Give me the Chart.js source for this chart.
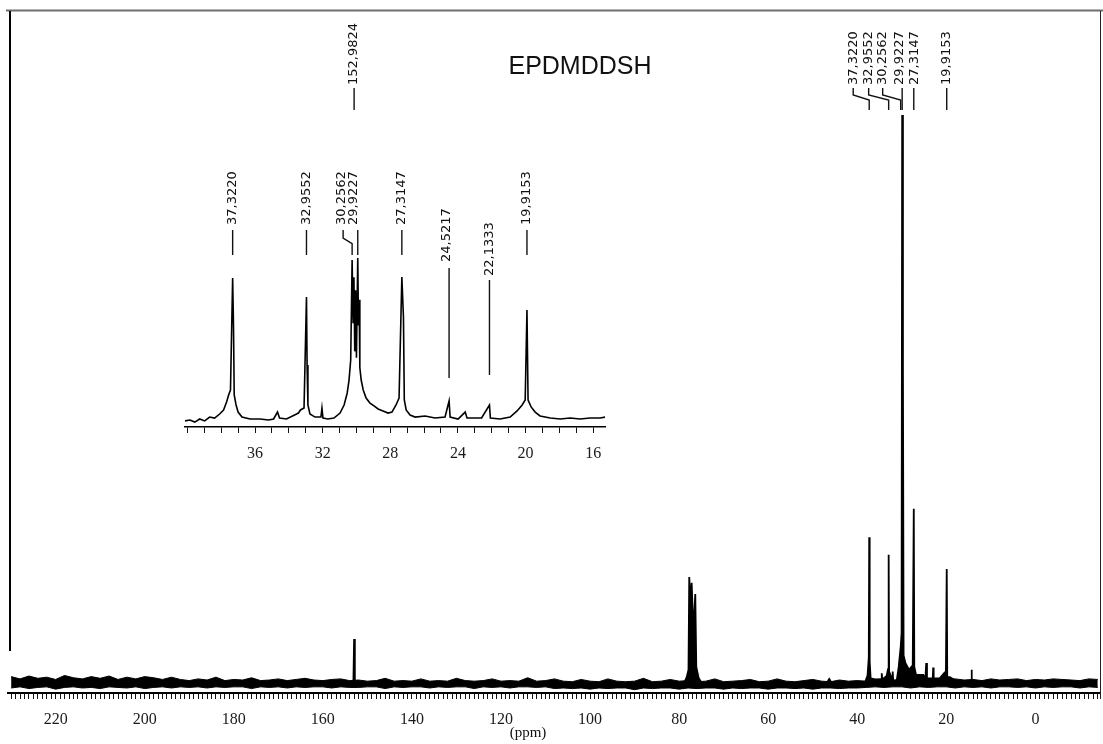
<!DOCTYPE html>
<html>
<head>
<meta charset="utf-8">
<title>EPDMDDSH 13C NMR</title>
<script src="https://cdn.jsdelivr.net/npm/chart.js@4.4.1/dist/chart.umd.min.js"></script>
<style>
  html, body { margin: 0; padding: 0; background: #fff; }
  #wrap { position: relative; width: 1103px; height: 744px; overflow: hidden; background: #fff; }
  #wrap canvas { position: absolute; left: 0; top: 0; }
</style>
</head>
<body>
<div id="wrap">
  <canvas id="full" width="1103" height="744"></canvas>
  <canvas id="zoom" width="1103" height="744"></canvas>
</div>
<script>
// ---------- Full spectrum (13C, ppm) ----------
const title = 'EPDMDDSH';
const mainTickLabels = [220, 200, 180, 160, 140, 120, 100, 80, 60, 40, 20, 0];

// Resolved signals of the full spectrum, intensity relative to 29.9227 = 100
const mainPpm = [
  153.15, 152.9824, 152.82,
  79.0, 78.3, 77.9, 77.73, 77.46, 77.19, 76.8, 76.38, 76.15, 75.6, 74.8,
  47.0, 46.3, 45.6,
  38.4, 37.7, 37.42, 37.3220, 37.22, 37.0, 36.0,
  34.6, 34.5, 34.4, 33.4, 33.1, 32.9552, 32.85, 32.2, 32.05, 31.9, 31.2,
  30.7, 30.2562, 30.05, 29.9227, 29.75, 29.6, 29.2, 28.4, 27.55, 27.3147, 27.2, 26.8,
  25.2, 24.7, 24.5217, 24.35, 23.5, 23.05, 22.96, 22.85, 21.5,
  20.5, 20.1, 19.9153, 19.8, 19.2, 17.5, 15.5, 14.45, 14.35, 14.25, 13.0
];
const mainInt = [
  0, 7.9, 0,
  0, 1.2, 2.5, 18.8, 14, 17.8, 9, 15.8, 3, 1, 0,
  0, 0.9, 0,
  0, 1.5, 4.6, 25.8, 4, 1, 0.8,
  0.8, 1.9, 0.8, 1.4, 2.6, 22.7, 2.2, 0.9, 2.2, 0.2, 0.3,
  3, 6.5, 9, 100, 56, 5, 3.7, 2.5, 3.3, 30.8, 3, 1.6,
  1.6, 1.0, 3.7, 1.0, 1.0, 1.0, 2.9, 1.0, 1.0,
  1.9, 2.2, 20.2, 1.2, 1.2, 0.4, 0.4, 0.4, 2.5, 0.4, 0
];

// Baseline noise envelope, one reading every 2 ppm from 230 ppm downwards
const noiseStart = 230, noiseStep = 2;
const noiseTop = [
  1.3, 0.9, 1.4, 1.0, 1.2, 0.8, 1.5, 1.1, 0.9, 1.3, 1.0, 1.4, 0.8, 1.2, 0.9, 1.3, 1.1, 0.8, 1.2,
  0.8, 0.6, 0.9, 0.7, 1.2, 0.6, 0.8, 0.7, 1.1, 0.6, 0.7, 0.9, 0.6, 0.8, 1.0, 0.7, 0.6, 0.8, 0.9, 0.6,
  0.7, 0.5, 0.6, 1.0, 0.5, 0.6, 0.5, 0.9, 0.5, 0.6, 0.5, 1.0, 0.6, 0.5, 0.6, 0.9, 0.5, 0.6, 0.5, 1.1, 0.5, 0.6, 0.9,
  0.5, 0.4, 0.8, 0.5, 0.4, 0.9, 0.5, 0.4, 0.5, 1.0, 0.4, 0.5, 0.8, 0.5, 0.6, 0.4, 0.5, 0.9, 0.4, 0.5, 0.6, 0.8, 0.4, 0.5, 0.9, 0.5, 0.4, 0.6, 0.8, 0.5, 0.4, 0.7, 0.5, 0.6, 0.5,
  0.8, 0.9, 0.7, 0.8, 0.7, 0.9, 0.8, 0.6, 0.8, 0.9, 0.7, 0.8, 0.6, 0.9, 0.7, 0.8, 0.9, 0.6, 0.8, 0.7, 0.9, 0.8, 0.7, 0.6, 0.9, 0.8
];
const noiseBottom = [
  -0.7, -0.5, -0.8, -0.6, -0.5, -0.9, -0.6, -0.5, -0.7, -0.6, -0.8, -0.5, -0.6, -0.7, -0.5, -0.8, -0.6, -0.5, -0.7,
  -0.5, -0.6, -0.5, -0.7, -0.5, -0.6, -0.5, -0.5, -0.8, -0.5, -0.6, -0.5, -0.7, -0.5, -0.6, -0.5, -0.5, -0.7, -0.5, -0.6,
  -0.6, -0.5, -0.5, -0.8, -0.5, -0.6, -0.5, -0.5, -0.7, -0.5, -0.6, -0.5, -0.5, -0.8, -0.5, -0.6, -0.5, -0.7, -0.5, -0.5, -0.6, -0.5, -0.8,
  -0.7, -0.8, -0.7, -0.9, -0.7, -0.8, -0.7, -0.7, -1.0, -0.7, -0.8, -0.7, -0.7, -0.9, -0.7, -0.8, -0.7, -0.7, -0.9, -0.7, -0.8, -0.7, -0.7, -0.9, -0.7, -0.7, -0.8, -0.7, -0.9, -0.7, -0.7, -0.8, -0.7, -0.7, -0.6,
  -0.5, -0.6, -0.5, -0.5, -0.7, -0.5, -0.6, -0.5, -0.5, -0.7, -0.5, -0.6, -0.5, -0.7, -0.5, -0.5, -0.6, -0.5, -0.7, -0.5, -0.6, -0.5, -0.5, -0.7, -0.5, -0.6
];

// Peak picks written above the full spectrum
const mainMarks = [152.9824, 37.3220, 32.9552, 30.2562, 29.9227, 27.3147, 19.9153];

// ---------- Expansion 40 - 15 ppm ----------
const insetTickLabels = [36, 32, 28, 24, 20, 16];
const insetPpm = [
  40.14, 39.85, 39.56, 39.27, 38.98, 38.68, 38.39, 38.09, 37.86, 37.68, 37.56, 37.45,
  37.3220, 37.27, 37.23, 37.12, 37.0, 36.77, 36.29, 35.7, 35.2, 34.9, 34.67, 34.55,
  34.14, 33.78, 33.43, 33.31, 33.1, 32.9552, 32.92, 32.87, 32.75, 32.45, 32.1, 32.04,
  31.98, 31.69, 31.33, 30.97, 30.73, 30.55, 30.44, 30.34, 30.2562, 30.2, 30.15, 30.1,
  30.05, 30.0, 29.9227, 29.88, 29.84, 29.8, 29.72, 29.6, 29.43, 29.2, 28.96, 28.72,
  28.43, 28.13, 27.9, 27.66, 27.48, 27.3147, 27.22, 27.17, 27.06, 26.83, 26.53, 25.94,
  25.35, 24.76, 24.5217, 24.46, 23.99, 23.57, 23.46, 22.99, 22.6, 22.1333, 22.08, 21.5,
  20.91, 20.5, 20.2, 20.02, 19.9153, 19.85, 19.67, 19.43, 19.14, 18.54, 17.95, 17.36,
  16.77, 16.18, 15.59, 15.3
];
const insetInt = [
  -1.2, -0.6, -1.9, 0, -1.2, 1.2, 0.6, 3.1, 5.6, 10.6, 14.9, 18,
  87.6, 56.5, 14.9, 8.7, 4.3, 1.2, 0, 0, -0.6, 0, 4.3, 0.6,
  0, 1.9, 3.7, 5.6, 6.8, 75.8, 33.5, 8.7, 3.1, 1.2, 1.2, 6.8,
  0.6, 0, 0.6, 3.7, 8.7, 16, 24, 36.6, 98.8, 60, 88, 42,
  80, 38, 100, 58, 74, 32, 24.2, 18, 13, 9.9, 8.1, 6.2,
  5, 3.7, 4.3, 8.7, 13, 88.2, 63.4, 11.8, 5.6, 2.5, 1.2, 1.9,
  0.6, 1.2, 11.2, 1.2, 0, 4.3, 0.6, 0.6, 0.6, 8.7, 0.6, 0,
  1.2, 5, 8.7, 11.8, 67.7, 11.8, 7.5, 4.3, 1.9, 0.6, 0, 0.6,
  0, 0.6, 0.6, 1.2
];
const insetMarks = [37.3220, 32.9552, 30.2562, 29.9227, 27.3147, 24.5217, 22.1333, 19.9153];

// ---------- helpers ----------
const INK = '#111';
const fmt = v => v.toFixed(4).replace('.', ',');
const pts = (xs, ys) => xs.map((x, i) => ({ x, y: ys[i] }));
function integerTicks(from, to) {
  const t = [];
  for (let v = from; v >= to; v--) t.push({ value: v });
  return t;
}

// Leader line from the printed shift down towards the signal, with the
// shift written vertically above it.
function drawPick(ctx, x, o, text) {
  const tx = x + (o.bend || 0);
  ctx.beginPath();
  if (!o.bend) {
    ctx.moveTo(x, o.top); ctx.lineTo(x, o.bottom);
  } else {
    const span = o.bottom - o.top;
    ctx.moveTo(tx, o.top);
    ctx.lineTo(tx, o.top + span * 0.32);
    ctx.lineTo(x, o.top + span * 0.55);
    ctx.lineTo(x, o.bottom);
  }
  ctx.stroke();
  ctx.save();
  ctx.translate(tx + (o.dx || 0), o.textY);
  ctx.rotate(-Math.PI / 2);
  ctx.textAlign = 'left';
  ctx.textBaseline = 'middle';
  ctx.fillText(text, 0, 0);
  ctx.restore();
}

const mainPickLayout = [
  { top: 88, bottom: 110, textY: 85 },
  { top: 88, bottom: 110, textY: 85, bend: -16 },
  { top: 88, bottom: 110, textY: 85, bend: -20 },
  { top: 88, bottom: 110, textY: 85, bend: -18 },
  { top: 88, bottom: 110, textY: 85, dx: -3 },
  { top: 88, bottom: 110, textY: 85, dx: 1 },
  { top: 88, bottom: 110, textY: 85 }
];
const insetPickLayout = [
  { top: 230, bottom: 255, textY: 225 },
  { top: 230, bottom: 255, textY: 225 },
  { top: 230, bottom: 255, textY: 225, bend: -9, dx: -1 },
  { top: 230, bottom: 255, textY: 225, dx: -4 },
  { top: 230, bottom: 255, textY: 225 },
  { top: 268, bottom: 378, textY: 262, dx: -2 },
  { top: 280, bottom: 375, textY: 276 },
  { top: 230, bottom: 255, textY: 225 }
];

const LABEL_FONT = '13px "DejaVu Sans", sans-serif';

const mainDecor = {
  id: 'mainDecor',
  beforeDraw(chart) {
    const ctx = chart.ctx;
    ctx.save();
    ctx.fillStyle = '#fff';
    ctx.fillRect(0, 0, chart.width, chart.height);
    ctx.restore();
  },
  afterDraw(chart) {
    const { ctx } = chart;
    const x = chart.scales.x;
    ctx.save();
    // plot frame
    ctx.strokeStyle = '#6e6e6e'; ctx.lineWidth = 2;
    ctx.beginPath(); ctx.moveTo(6, 10.5); ctx.lineTo(1103, 10.5); ctx.stroke();
    ctx.strokeStyle = '#000'; ctx.lineWidth = 2;
    ctx.beginPath(); ctx.moveTo(10, 11); ctx.lineTo(10, 651); ctx.stroke();
    ctx.strokeStyle = '#222'; ctx.lineWidth = 1;
    ctx.beginPath(); ctx.moveTo(1100.5, 11); ctx.lineTo(1100.5, 699); ctx.stroke();
    // sample name
    ctx.fillStyle = INK;
    ctx.font = '25px "Liberation Sans", Arial, sans-serif';
    ctx.textAlign = 'center'; ctx.textBaseline = 'middle';
    ctx.fillText(title, 580, 67);
    // unit
    ctx.font = '15px "Liberation Serif", "Times New Roman", serif';
    ctx.fillText('(ppm)', 528, 733);
    // peak picks
    ctx.strokeStyle = INK; ctx.lineWidth = 1.4;
    ctx.font = LABEL_FONT;
    mainMarks.forEach((m, i) => drawPick(ctx, x.getPixelForValue(m), mainPickLayout[i], fmt(m)));
    ctx.restore();
  }
};

const insetDecor = {
  id: 'insetDecor',
  afterDraw(chart) {
    const { ctx } = chart;
    const x = chart.scales.x;
    ctx.save();
    ctx.strokeStyle = INK; ctx.fillStyle = INK; ctx.lineWidth = 1.4;
    ctx.font = LABEL_FONT;
    insetMarks.forEach((m, i) => drawPick(ctx, x.getPixelForValue(m), insetPickLayout[i], fmt(m)));
    ctx.restore();
  }
};

const noisePpm = noiseTop.map((_, i) => noiseStart - i * noiseStep);

Chart.defaults.font.family = '"Liberation Serif", serif';

new Chart(document.getElementById('full'), {
  type: 'line',
  data: {
    datasets: [
      { data: pts(noisePpm, noiseBottom), borderColor: '#000', borderWidth: 1, pointRadius: 0, fill: false },
      { data: pts(noisePpm, noiseTop), borderColor: '#000', borderWidth: 1, pointRadius: 0, fill: '-1', backgroundColor: '#000' },
      { data: pts(mainPpm, mainInt), borderColor: '#000', borderWidth: 1.8, pointRadius: 0, fill: 'origin', backgroundColor: '#000' }
    ]
  },
  options: {
    responsive: false,
    animation: false,
    events: [],
    layout: { autoPadding: false, padding: { left: 8, right: 3, top: 10, bottom: 0 } },
    plugins: { legend: { display: false }, tooltip: { enabled: false }, title: { display: false } },
    scales: {
      x: {
        type: 'linear', reverse: true, min: -14.5, max: 230.7,
        afterBuildTicks: s => { s.ticks = integerTicks(230, -14); },
        afterFit: s => { s.height = 51; s.paddingLeft = 0; s.paddingRight = 0; },
        ticks: {
          autoSkip: false, maxRotation: 0, minRotation: 0, padding: 11,
          color: '#1a1a1a', font: { family: '"Liberation Serif", serif', size: 16 },
          callback: v => mainTickLabels.includes(v) ? String(v) : ''
        },
        grid: { drawOnChartArea: false, drawTicks: true, tickLength: 6, color: '#111', lineWidth: 1 },
        border: { display: true, color: '#000', width: 2 }
      },
      y: { display: false, min: -1.58, max: 118.45 }
    }
  },
  plugins: [mainDecor]
});

new Chart(document.getElementById('zoom'), {
  type: 'line',
  data: {
    datasets: [
      { data: pts(insetPpm, insetInt), borderColor: '#000', borderWidth: 1.6, pointRadius: 0, fill: false }
    ]
  },
  options: {
    responsive: false,
    animation: false,
    events: [],
    layout: { autoPadding: false, padding: { left: 185, right: 498, top: 200, bottom: 277 } },
    plugins: { legend: { display: false }, tooltip: { enabled: false }, title: { display: false } },
    scales: {
      x: {
        type: 'linear', reverse: true, min: 15.3, max: 40.14,
        afterBuildTicks: s => { s.ticks = integerTicks(40, 16); },
        afterFit: s => { s.height = 40; s.paddingLeft = 0; s.paddingRight = 0; },
        ticks: {
          autoSkip: false, maxRotation: 0, minRotation: 0, padding: 11,
          color: '#1a1a1a', font: { family: '"Liberation Serif", serif', size: 16 },
          callback: v => insetTickLabels.includes(v) ? String(v) : ''
        },
        grid: { drawOnChartArea: false, drawTicks: true, tickLength: 6, color: '#111', lineWidth: 1 },
        border: { display: true, color: '#000', width: 1.5 }
      },
      y: { display: false, min: -4.97, max: 136 }
    }
  },
  plugins: [insetDecor]
});
</script>
</body>
</html>
